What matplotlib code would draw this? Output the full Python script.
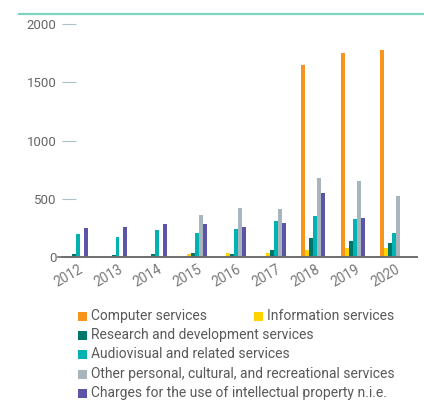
import numpy as np
import matplotlib
matplotlib.use("Agg")
import matplotlib.pyplot as plt
import matplotlib.transforms as mtransforms
from matplotlib.patches import Rectangle
from matplotlib.lines import Line2D

plt.rcParams['font.family'] = ['Roboto', 'DejaVu Sans']

years = ["2012", "2013", "2014", "2015", "2016", "2017", "2018", "2019", "2020"]
series = [
    "Computer services",
    "Information services",
    "Research and development services",
    "Audiovisual and related services",
    "Other personal, cultural, and recreational services",
    "Charges for the use of intellectual property n.i.e.",
]
colors = ["#F7941D", "#FFD200", "#00756B", "#00B2B2", "#A8B5BD", "#5C55A5"]

computer = [0, 0, 0, 0, 0, 0, 1650, 1752, 1778]
information = [0, 0, 0, 26, 34, 34, 60, 77, 77]
research = [26, 17, 26, 34, 26, 60, 163, 137, 120]
audiovisual = [197, 172, 232, 206, 240, 309, 352, 326, 206]
other = [0, 0, 0, 361, 420, 412, 678, 652, 524]
charges = [249, 258, 283, 283, 258, 292, 549, 335, 0]
values = [computer, information, research, audiovisual, other, charges]

fig = plt.figure(figsize=(4.24, 4.01), dpi=100)
ax = fig.add_axes([62 / 424, 1 - 257 / 401, (417 - 62) / 424, (257 - 24) / 401])

x = np.arange(len(years))
w = 0.101
for i, (vals, col) in enumerate(zip(values, colors)):
    ax.bar(x + (i - 2.5) * w, vals, width=w, color=col, linewidth=0)

ax.set_xlim(-0.354, 8.63)
ax.set_ylim(0, 2000)
ax.set_yticks([0, 500, 1000, 1500, 2000])
for s in ["top", "right", "left"]:
    ax.spines[s].set_visible(False)
ax.spines["bottom"].set_color("#6d6d6d")
ax.spines["bottom"].set_linewidth(1.2)
ax.axhline(0, xmin=-0.012, xmax=1, color="#6d6d6d", lw=1.2, clip_on=False)

ax.tick_params(axis="y", direction="in", length=10, width=0.8, color="#a9bfca",
               labelsize=9.5, labelcolor="#666666", pad=4)
ax.tick_params(axis="x", length=0, labelsize=9.8, labelcolor="#777777", pad=4)
ax.set_xticks(x)
ax.set_xticklabels(years, rotation=30, ha="center")
offset = mtransforms.ScaledTranslation(-7 / 100, 0, fig.dpi_scale_trans)
for lab in ax.get_xticklabels():
    lab.set_transform(lab.get_transform() + offset)

# top decorative rule
fig.add_artist(Line2D([19 / 424, 1], [1 - 14 / 401] * 2, color="#7fd3c3", lw=1.6))

# legend laid out like the original
entries = [(0, 78, 316), (1, 254, 316), (2, 78, 335), (3, 78, 354.5), (4, 78, 374), (5, 78, 393)]
for idx, px, py in entries:
    fig.add_artist(Rectangle((px / 424, 1 - (py + 4.5) / 401), 9 / 424, 9 / 401,
                             color=colors[idx], lw=0))
    fig.text((px + 13) / 424, 1 - py / 401, series[idx], fontsize=10,
             color="#595959", va="center", ha="left")

fig.savefig("out.png", dpi=100)
